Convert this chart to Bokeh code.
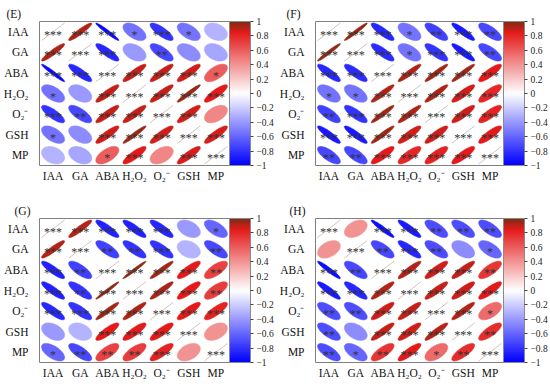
import numpy as np
from bokeh.plotting import figure
from bokeh.models import (Range1d, FixedTicker, ColorBar, LinearColorMapper,
                          ColumnDataSource)
from bokeh.layouts import row, column
from bokeh.embed import file_html
from bokeh.resources import INLINE
from bokeh.core.properties import value

# ---------------- data ----------------
variables = ["IAA", "GA", "ABA", "H2O2", "O2-", "GSH", "MP"]
var_labels = ["IAA", "GA", "ABA", "H₂O₂", "O₂⁻", "GSH", "MP"]

# upper-triangle pair order: (IAA,GA) (IAA,ABA) (IAA,H2O2) (IAA,O2) (IAA,GSH) (IAA,MP)
# (GA,ABA) (GA,H2O2) (GA,O2) (GA,GSH) (GA,MP) (ABA,H2O2) (ABA,O2) (ABA,GSH) (ABA,MP)
# (H2O2,O2) (H2O2,GSH) (H2O2,MP) (O2,GSH) (O2,MP) (GSH,MP)
r_E = [0.93, -0.97, -0.55, -0.80, -0.55, -0.30,
       -0.85, -0.40, -0.72, -0.45, -0.35,
       0.90, 0.90, 0.88, 0.60,
       0.90, 0.96, 0.85,
       0.88, 0.45,
       0.87]
s_E = ["***", "***", "*", "***", "*", "",
       "***", "", "**", "", "",
       "***", "***", "***", "*",
       "***", "***", "***",
       "***", "",
       "***"]

r_F = [0.97, -0.85, -0.55, -0.75, -0.90, -0.72,
       -0.83, -0.55, -0.80, -0.90, -0.72,
       0.93, 0.95, 0.95, 0.85,
       0.93, 0.88, 0.80,
       0.88, 0.82,
       0.85]
s_F = ["***", "***", "*", "**", "***", "**",
       "***", "*", "***", "***", "**",
       "***", "***", "***", "***",
       "***", "***", "***",
       "***", "***",
       "***"]

r_G = [0.92, -0.87, -0.87, -0.85, -0.40, -0.60,
       -0.75, -0.80, -0.80, -0.30, -0.72,
       0.98, 0.95, 0.85, 0.70,
       0.93, 0.85, 0.72,
       0.85, 0.82,
       0.40]
s_G = ["***", "***", "***", "***", "", "*",
       "**", "**", "***", "", "**",
       "***", "***", "***", "**",
       "***", "***", "**",
       "***", "***",
       ""]

r_H = [0.40, -0.95, -0.90, -0.70, -0.70, -0.70,
       -0.72, -0.85, -0.70, -0.45, -0.60,
       0.92, 0.88, 0.90, 0.75,
       0.90, 0.88, 0.85,
       0.92, 0.55,
       0.78]
s_H = ["", "***", "***", "**", "**", "**",
       "**", "***", "**", "", "*",
       "***", "***", "***", "**",
       "***", "***", "***",
       "***", "*",
       "**"]

panel_tags = ["(E)", "(F)", "(G)", "(H)"]
cb_ticks = [-1, -0.8, -0.6, -0.4, -0.2, 0, 0.2, 0.4, 0.6, 0.8, 1]
cb_tick_labels = ["−1", "−0.8", "−0.6", "−0.4", "−0.2", "0", "0.2", "0.4", "0.6", "0.8", "1"]

# colour scale anchors (blue - white - red - dark brown)
anchor_vals = [-1.0, 0.0, 0.85, 1.0]
anchor_rgb = [(0, 0, 255), (255, 255, 255), (228, 26, 26), (125, 45, 20)]

FONT = "Liberation Serif"

levels = np.linspace(-1, 1, 201)
palette = []
for v in levels:
    rgb = [int(round(np.interp(v, anchor_vals, [c[k] for c in anchor_rgb]))) for k in range(3)]
    palette.append("#%02x%02x%02x" % tuple(rgb))
mapper = LinearColorMapper(palette=palette, low=-1, high=1)

n = len(variables)
pairs = [(i, j) for i in range(n) for j in range(i + 1, n)]


def ellipse_pts(r, cx, cy, npts=60, scale=0.85):
    k = np.linspace(0, 2 * np.pi, npts)
    a = np.arccos(np.clip(r, -1, 1)) / 2
    dx = scale * np.cos(k + a) / 2
    dy = scale * np.cos(k - a) / 2
    return list(cx + dx), list(cy - dy)


def make_panel(tag, rvals, stars, width, height, bl, br, bt, bb, tag_offset):
    M = np.eye(n)
    S = [[""] * n for _ in range(n)]
    for (i, j), r, s in zip(pairs, rvals, stars):
        M[i, j] = M[j, i] = r
        S[i][j] = S[j][i] = s
    for i in range(n):
        S[i][i] = "***"

    xs, ys, rs = [], [], []
    tx, ty, tt = [], [], []
    for i in range(n):
        for j in range(n):
            cx, cy = j + 0.5, i + 0.5
            if i != j:
                ex, ey = ellipse_pts(M[i, j], cx, cy)
                xs.append(ex); ys.append(ey); rs.append(M[i, j])
            tx.append(cx); ty.append(cy); tt.append(S[i][j])

    p = figure(width=width, height=height, x_range=Range1d(0, n), y_range=Range1d(n, 0),
               output_backend="svg", toolbar_location=None, title=tag,
               min_border_left=bl, min_border_right=br, min_border_top=bt, min_border_bottom=bb)
    p.title.align = "left"
    p.title.offset = tag_offset
    p.title.standoff = 4
    p.title.text_font = FONT
    p.title.text_font_size = "11.5px"
    p.title.text_font_style = "normal"
    p.title.text_color = "#111111"

    p.xgrid.visible = False
    p.ygrid.visible = False
    p.outline_line_color = "#7f7f7f"
    p.outline_line_width = 1

    # diagonal r = 1 lines
    d = [k + 0.5 for k in range(n)]
    p.segment(x0=[v - 0.425 for v in d], y0=[v + 0.425 for v in d],
              x1=[v + 0.425 for v in d], y1=[v - 0.425 for v in d],
              line_color="#d2c4c2", line_width=1)

    src = ColumnDataSource(dict(xs=xs, ys=ys, r=rs))
    p.patches("xs", "ys", source=src,
              fill_color={"field": "r", "transform": mapper},
              line_color={"field": "r", "transform": mapper}, line_width=0.6)

    tsrc = ColumnDataSource(dict(x=tx, y=ty, t=tt))
    p.text("x", "y", text="t", source=tsrc, text_font=value(FONT),
           text_font_size=value("12px"), text_align="center", text_baseline="middle",
           y_offset=3, text_color="#333333")

    centers = [k + 0.5 for k in range(n)]
    for ax in (p.xaxis, p.yaxis):
        ax.ticker = FixedTicker(ticks=centers)
        ax.major_label_overrides = {c: lab for c, lab in zip(centers, var_labels)}
        ax.axis_line_color = None
        ax.major_tick_line_color = None
        ax.minor_tick_line_color = None
        ax.major_label_text_font = FONT
        ax.major_label_text_font_size = "11.5px"
        ax.major_label_text_color = "#111111"
    p.xaxis.major_label_standoff = -2
    p.yaxis.major_label_standoff = 5

    cb = ColorBar(color_mapper=mapper, ticker=FixedTicker(ticks=cb_ticks),
                  major_label_overrides={t: l for t, l in zip(cb_ticks, cb_tick_labels)},
                  width=21, padding=0, margin=0, label_standoff=3,
                  major_tick_in=0, major_tick_out=3, major_tick_line_color="#444444",
                  bar_line_color="#8a8a8a", major_label_text_font=FONT,
                  major_label_text_font_size="9.5px", major_label_text_color="#222222")
    p.add_layout(cb, "right")
    return p


pE = make_panel(panel_tags[0], r_E, s_E, 276, 193, 38, 45, 21, 28, -33)
pF = make_panel(panel_tags[1], r_F, s_F, 274, 193, 38, 43, 21, 28, -29)
pG = make_panel(panel_tags[2], r_G, s_G, 276, 193, 38, 45, 25, 24, -25)
pH = make_panel(panel_tags[3], r_H, s_H, 274, 193, 38, 43, 25, 24, -26)

layout = column(row(pE, pF), row(pG, pH))
open("out.html", "w").write(file_html(layout, INLINE))
